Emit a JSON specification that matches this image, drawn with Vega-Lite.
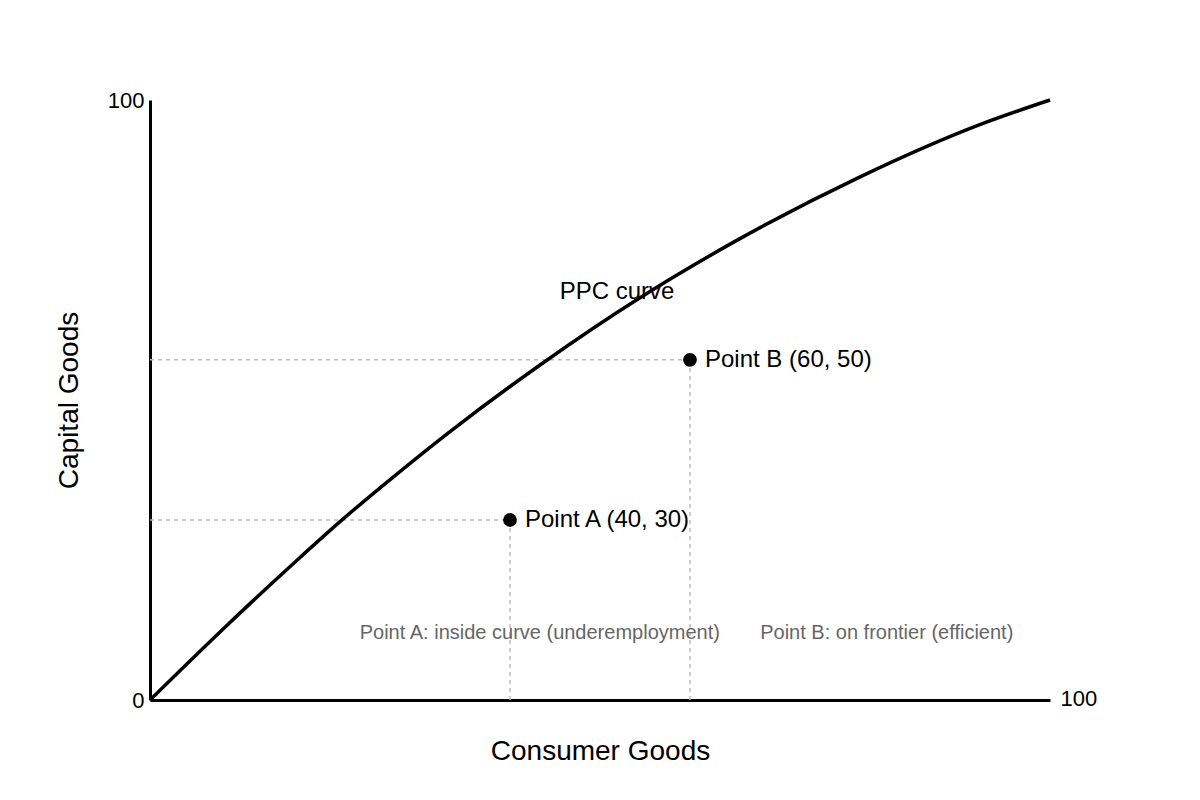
{
  "$schema": "https://vega.github.io/schema/vega-lite/v6.json",
  "width": 900,
  "height": 600,
  "autosize": "none",
  "padding": {"left": 150, "top": 100, "right": 150, "bottom": 100},
  "background": "white",
  "config": {
    "font": "Liberation Sans",
    "view": {"stroke": null},
    "axis": {
      "grid": false,
      "ticks": false,
      "tickSize": 0,
      "domainColor": "black",
      "domainWidth": 3,
      "labelColor": "black",
      "labelFont": "Liberation Sans",
      "labelFontSize": 22,
      "titleFont": "Liberation Sans",
      "titleFontSize": 28,
      "titleFontWeight": "normal",
      "titleColor": "black"
    }
  },
  "datasets": {
    "curve": [
      {"consumer": 0, "capital": 0},
      {"consumer": 8.1, "capital": 11.8},
      {"consumer": 16.7, "capital": 23.8},
      {"consumer": 21.4, "capital": 30.1},
      {"consumer": 25.6, "capital": 35.4},
      {"consumer": 33.3, "capital": 44.7},
      {"consumer": 43.3, "capital": 55.8},
      {"consumer": 54.4, "capital": 67},
      {"consumer": 65.2, "capital": 76.6},
      {"consumer": 78.9, "capital": 87.2},
      {"consumer": 92.2, "capital": 95.9},
      {"consumer": 100, "capital": 100}
    ],
    "points": [
      {"consumer": 40, "capital": 30, "label": "Point A (40, 30)"},
      {"consumer": 60, "capital": 56.7, "label": "Point B (60, 50)"}
    ],
    "guides": [
      {"x1": 0, "x2": 40, "y1": 30, "y2": 30},
      {"x1": 40, "x2": 40, "y1": 0, "y2": 30},
      {"x1": 0, "x2": 60, "y1": 56.7, "y2": 56.7},
      {"x1": 60, "x2": 60, "y1": 0, "y2": 56.7}
    ],
    "notes": [
      {"consumer": 23.3, "capital": 11.2, "note": "Point A: inside curve (underemployment)"},
      {"consumer": 67.8, "capital": 11.2, "note": "Point B: on frontier (efficient)"}
    ],
    "curveLabel": [
      {"consumer": 51.9, "capital": 68, "text": "PPC curve"}
    ]
  },
  "layer": [
    {
      "data": {"name": "guides"},
      "mark": {"type": "rule", "color": "#bbbbbb", "strokeWidth": 1.5, "strokeDash": [4, 4]},
      "encoding": {
        "x": {"field": "x1", "type": "quantitative", "scale": {"domain": [0, 100], "nice": false},
          "title": "Consumer Goods",
          "axis": {"values": [100], "labelAlign": "left", "labelBaseline": "middle", "labelPadding": -2, "labelOffset": 10, "labelFlush": false, "titlePadding": 28}},
        "x2": {"field": "x2"},
        "y": {"field": "y1", "type": "quantitative", "scale": {"domain": [0, 100], "nice": false},
          "title": "Capital Goods",
          "axis": {"values": [0, 100], "labelPadding": 6, "labelFlush": false, "titlePadding": 24}},
        "y2": {"field": "y2"}
      }
    },
    {
      "data": {"name": "curve"},
      "mark": {"type": "line", "color": "black", "strokeWidth": 3.5, "interpolate": "monotone"},
      "encoding": {
        "x": {"field": "consumer", "type": "quantitative"},
        "y": {"field": "capital", "type": "quantitative"}
      }
    },
    {
      "data": {"name": "points"},
      "mark": {"type": "circle", "color": "black", "size": 190, "opacity": 1},
      "encoding": {
        "x": {"field": "consumer", "type": "quantitative"},
        "y": {"field": "capital", "type": "quantitative"}
      }
    },
    {
      "data": {"name": "points"},
      "mark": {"type": "text", "align": "left", "baseline": "middle", "dx": 15, "fontSize": 24, "color": "black"},
      "encoding": {
        "x": {"field": "consumer", "type": "quantitative"},
        "y": {"field": "capital", "type": "quantitative"},
        "text": {"field": "label"}
      }
    },
    {
      "data": {"name": "curveLabel"},
      "mark": {"type": "text", "align": "center", "baseline": "middle", "fontSize": 24, "color": "black"},
      "encoding": {
        "x": {"field": "consumer", "type": "quantitative"},
        "y": {"field": "capital", "type": "quantitative"},
        "text": {"field": "text"}
      }
    },
    {
      "data": {"name": "notes"},
      "mark": {"type": "text", "align": "left", "baseline": "middle", "fontSize": 20, "color": "#666666"},
      "encoding": {
        "x": {"field": "consumer", "type": "quantitative"},
        "y": {"field": "capital", "type": "quantitative"},
        "text": {"field": "note"}
      }
    }
  ]
}
